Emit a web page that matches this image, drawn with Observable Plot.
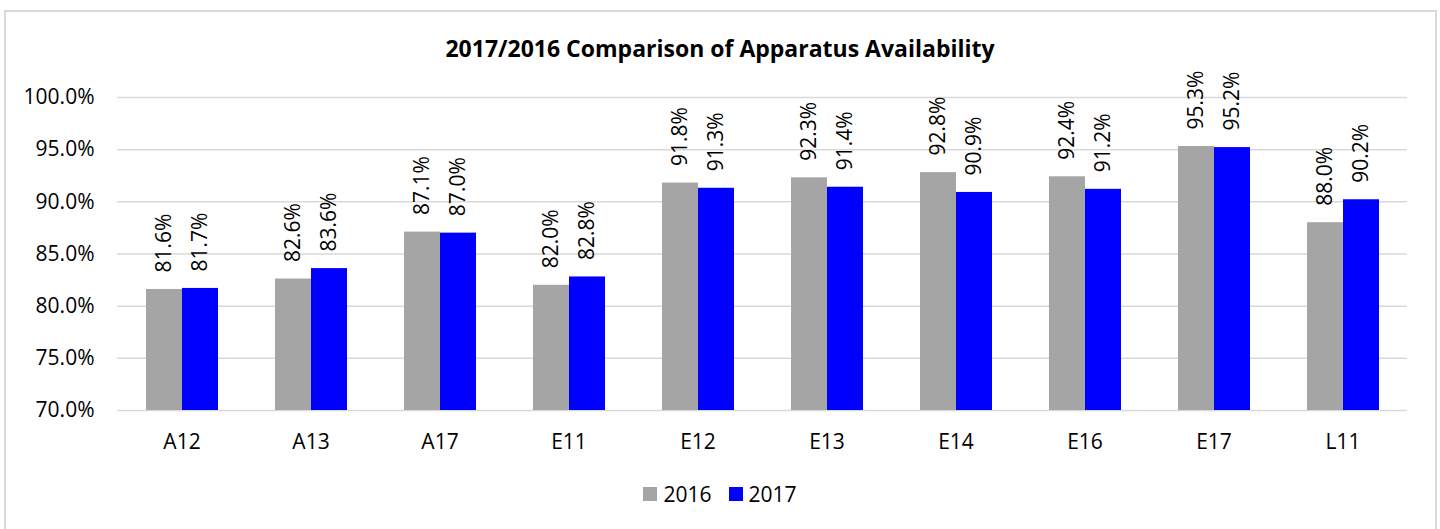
<!DOCTYPE html>
<html>
<head>
<meta charset="utf-8">
<script src="https://cdn.jsdelivr.net/npm/d3@7"></script>
<script src="https://cdn.jsdelivr.net/npm/@observablehq/plot@0.6"></script>
<style>
  html, body { margin: 0; padding: 0; background: #fff; }
  body { width: 1440px; height: 529px; position: relative; overflow: hidden; font-family: "Open Sans", sans-serif; }
  #frame { position: absolute; left: 4px; top: 10px; width: 1433px; height: 530px; border: 2px solid #d9d9d9; box-sizing: border-box; }
  #title { position: absolute; left: 0; top: 32px; width: 1440px; text-align: center; font-weight: bold; font-size: 23px; color: #000; }
  #chart { position: absolute; left: 0; top: 70px; }
  #legend { position: absolute; left: 0; top: 480px; width: 1440px; display: flex; justify-content: center; gap: 17px; font-size: 21px; color: #000; }
  .item { display: flex; align-items: center; gap: 6px; }
  .sw { width: 14px; height: 14px; display: inline-block; }
</style>
</head>
<body>
<div id="frame"></div>
<div id="title">2017/2016 Comparison of Apparatus Availability</div>
<div id="chart"></div>
<div id="legend"></div>
<script>
const categories = ["A12", "A13", "A17", "E11", "E12", "E13", "E14", "E16", "E17", "L11"];
const years = ["2016", "2017"];
const values2016 = [0.816, 0.826, 0.871, 0.820, 0.918, 0.923, 0.928, 0.924, 0.953, 0.880];
const values2017 = [0.817, 0.836, 0.870, 0.828, 0.913, 0.914, 0.909, 0.912, 0.952, 0.902];
const yTicks = [0.70, 0.75, 0.80, 0.85, 0.90, 0.95, 1.00];
const colors = ["#a5a5a5", "#0000ff"];

const data = [];
categories.forEach((c, i) => {
  data.push({cat: c, year: years[0], value: values2016[i]});
  data.push({cat: c, year: years[1], value: values2017[i]});
});
const pct = d3.format(".1%");
const yMin = yTicks[0], yMax = yTicks[yTicks.length - 1];

const chart = Plot.plot({
  width: 1440,
  height: 385,
  marginLeft: 116,
  marginRight: 33,
  marginTop: 27,
  marginBottom: 45,
  style: {fontSize: "21px", fontFamily: "'Open Sans', sans-serif", color: "#000", background: "transparent"},
  fx: {domain: categories, padding: 0, label: null, tickSize: 0, tickPadding: 24, axis: "bottom"},
  x: {domain: years, paddingInner: 0, paddingOuter: 0.745, axis: null},
  y: {domain: [yMin, yMax], ticks: yTicks, tickFormat: pct, tickSize: 0, tickPadding: 23, label: null},
  color: {domain: years, range: colors},
  marks: [
    Plot.gridY(yTicks, {stroke: "#d9d9d9", strokeOpacity: 1, strokeWidth: 1.5}),
    Plot.barY(data, {fx: "cat", x: "year", y1: yMin, y2: "value", fill: "year"}),
    Plot.text(data, {fx: "cat", x: "year", y: "value", text: d => pct(d.value), rotate: -90, textAnchor: "start", dy: -17, fontSize: 21, fill: "#000"})
  ]
});
document.getElementById("chart").appendChild(chart);

const legend = document.getElementById("legend");
years.forEach((y, i) => {
  const it = document.createElement("div");
  it.className = "item";
  const sw = document.createElement("span");
  sw.className = "sw";
  sw.style.background = colors[i];
  const t = document.createElement("span");
  t.textContent = y;
  it.appendChild(sw); it.appendChild(t);
  legend.appendChild(it);
});
</script>
</body>
</html>
